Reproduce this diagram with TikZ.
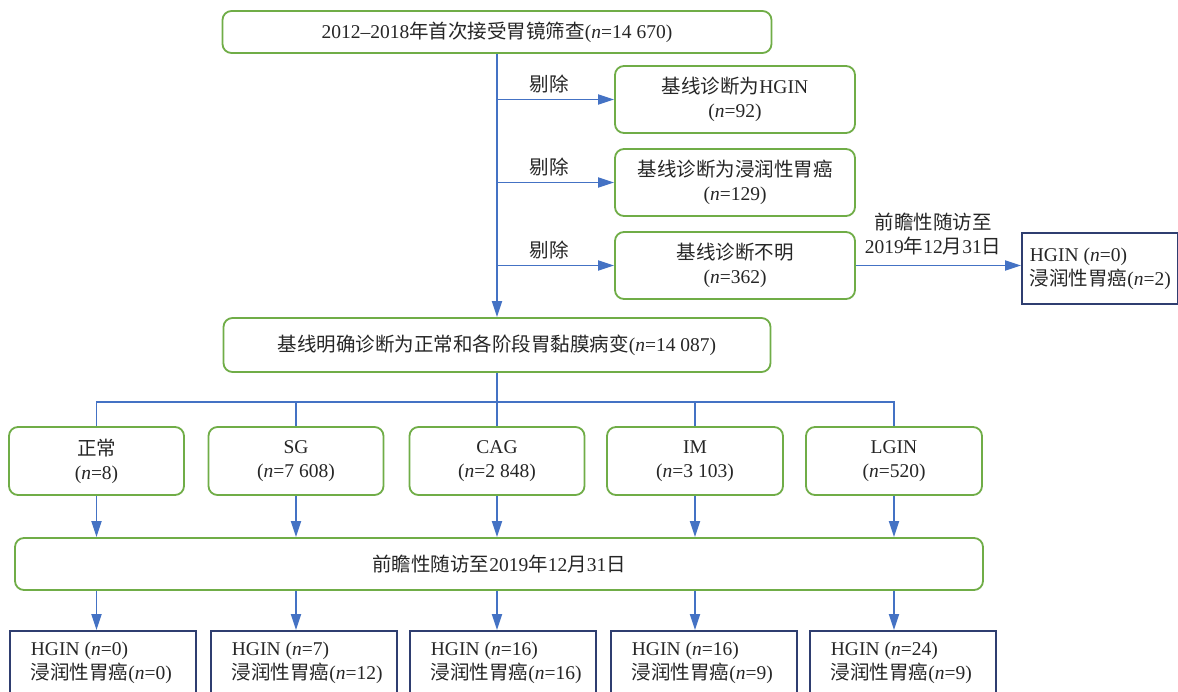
\documentclass[tikz,border=0pt]{standalone}
\usepackage{fontspec}
\setmainfont{Liberation Serif}
\newfontfamily\cjkfont{Noto Sans CJK SC}
\newcommand\zh[1]{{\cjkfont #1}}
\newcommand\nv{\textit{n}}
\usetikzlibrary{arrows.meta}
\definecolor{boxgreen}{RGB}{112,173,71}
\definecolor{linkblue}{RGB}{68,114,196}
\definecolor{navyline}{RGB}{47,62,112}
\begin{document}
\begin{tikzpicture}[x=1pt,y=-1pt,
  txt/.style={font=\fontsize{19.5}{24}\selectfont, text=black!85},
  gbox/.style={txt, draw=boxgreen, line width=1.8pt, rounded corners=9pt, fill=white, align=center, inner sep=0pt},
  nbox/.style={txt, draw=navyline, line width=1.8pt, fill=white, anchor=north west, inner ysep=0pt},
  lnk/.style={draw=linkblue, line width=1.8pt},
  arr/.style={lnk, -{Triangle[length=16pt,width=10pt]}},
  lbl/.style={txt, align=center, inner sep=0pt}
]
\useasboundingbox (0,0) rectangle (1178,692);
\fill[white] (0,0) rectangle (1178,692);
\clip (0,0) rectangle (1178,692);

% top
\node[gbox, minimum width=549pt, minimum height=42pt] (top) at (497,32) {2012–2018\zh{年首次接受胃镜筛查}(\nv=14 670)};
% exclusions
\node[gbox, minimum width=240pt, minimum height=67pt] (ex1) at (735,99.5) {\zh{基线诊断为}HGIN\\(\nv=92)};
\node[gbox, minimum width=240pt, minimum height=67pt] (ex2) at (735,182.5) {\zh{基线诊断为浸润性胃癌}\\(\nv=129)};
\node[gbox, minimum width=240pt, minimum height=67pt] (ex3) at (735,265.5) {\zh{基线诊断不明}\\(\nv=362)};
\node[lbl] (l1) at (549,84) {\zh{剔除}};
\node[lbl] (l2) at (549,167) {\zh{剔除}};
\node[lbl] (l3) at (549,250) {\zh{剔除}};
% right result
\node[nbox, inner xsep=8pt] (rb) at (1021,232) {\parbox[t][71pt][t]{140pt}{\vspace*{15pt}HGIN (\nv=0)\\\zh{浸润性胃癌}(\nv=2)}};
\node[lbl] (rl) at (933,234) {\zh{前瞻性随访至}\\2019\zh{年}12\zh{月}31\zh{日}};
% middle
\node[gbox, minimum width=547pt, minimum height=54pt] (mid) at (497,345) {\zh{基线明确诊断为正常和各阶段胃黏膜病变}(\nv=14 087)};
% categories
\node[gbox, minimum width=175pt, minimum height=68pt] (c1) at (96.5,461) {\zh{正常}\\(\nv=8)};
\node[gbox, minimum width=175pt, minimum height=68pt] (c2) at (296,461) {SG\\(\nv=7 608)};
\node[gbox, minimum width=175pt, minimum height=68pt] (c3) at (497,461) {CAG\\(\nv=2 848)};
\node[gbox, minimum width=176pt, minimum height=68pt] (c4) at (695,461) {IM\\(\nv=3 103)};
\node[gbox, minimum width=176pt, minimum height=68pt] (c5) at (894,461) {LGIN\\(\nv=520)};
% follow-up
\node[gbox, minimum width=968pt, minimum height=52pt] (fu) at (499,564) {\zh{前瞻性随访至}2019\zh{年}12\zh{月}31\zh{日}};
% bottom results
\node[nbox, inner xsep=21pt] (b1) at (9,630) {\parbox[t][70pt][t]{144pt}{\vspace*{11pt}HGIN (\nv=0)\\\zh{浸润性胃癌}(\nv=0)}};
\node[nbox, inner xsep=21pt] (b2) at (210,630) {\parbox[t][70pt][t]{144pt}{\vspace*{11pt}HGIN (\nv=7)\\\zh{浸润性胃癌}(\nv=12)}};
\node[nbox, inner xsep=21pt] (b3) at (409,630) {\parbox[t][70pt][t]{144pt}{\vspace*{11pt}HGIN (\nv=16)\\\zh{浸润性胃癌}(\nv=16)}};
\node[nbox, inner xsep=21pt] (b4) at (610,630) {\parbox[t][70pt][t]{144pt}{\vspace*{11pt}HGIN (\nv=16)\\\zh{浸润性胃癌}(\nv=9)}};
\node[nbox, inner xsep=21pt] (b5) at (809,630) {\parbox[t][70pt][t]{144pt}{\vspace*{11pt}HGIN (\nv=24)\\\zh{浸润性胃癌}(\nv=9)}};

% connectors
\draw[arr] (top.south) -- (mid.north);
\draw[arr] (top.south |- ex1.west) -- (ex1.west);
\draw[arr] (top.south |- ex2.west) -- (ex2.west);
\draw[arr] (top.south |- ex3.west) -- (ex3.west);
\draw[arr] (ex3.east) -- (ex3.east -| rb.west);

\coordinate (br) at (497,402);
\draw[lnk] (mid.south) -- (c3.north);
\draw[lnk] (c1.north) |- (br) -| (c5.north);
\draw[lnk] (br -| c2.north) -- (c2.north);
\draw[lnk] (br -| c4.north) -- (c4.north);

\foreach \i in {1,...,5}{
  \draw[arr] (c\i.south) -- (c\i.south |- fu.north);
  \draw[arr] (c\i.south |- fu.south) -- (c\i.south |- b\i.north);
}
\end{tikzpicture}
\end{document}
